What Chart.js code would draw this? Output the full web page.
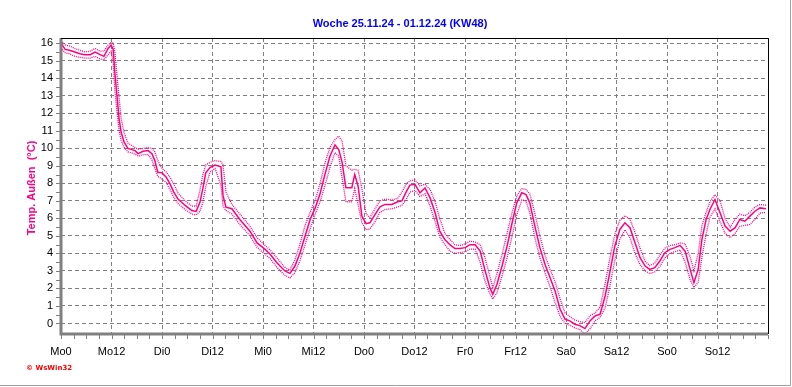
<!DOCTYPE html>
<html>
<head>
<meta charset="utf-8">
<script src="https://cdn.jsdelivr.net/npm/chart.js@4/dist/chart.umd.min.js"></script>
<style>
    body { margin: 0; background: #fff; }
</style>
</head>
<body>
<canvas id="tempChart" width="792" height="387"></canvas>
<script>
const chartTitle = 'Woche 25.11.24 - 01.12.24 (KW48)';
const yTitle = 'Temp. Außen  (°C)';
const dayLabels = ['Mo0','Mo12','Di0','Di12','Mi0','Mi12','Do0','Do12','Fr0','Fr12','Sa0','Sa12','So0','So12'];

// Stunden seit Mo 0 Uhr
const hours = [0,1,2,3.3,4.5,5.7,6.9,8.1,9.3,10.2,11.2,11.9,12.4,12.8,13.3,13.8,14.3,15,15.9,17.6,
    18.3,19.5,20.7,21.6,22.3,23,24,25,25.9,26.8,27.8,29.5,31.1,32.1,33,33.7,34.4,35.4,36.6,38,
    38.5,39.2,40.6,42.5,44.9,46.6,48.5,49.7,51.3,53.2,54.4,55.6,56.8,58,59.2,60.4,61.5,62.7,63.9,65.1,
    66,66.8,67.7,69.1,69.8,70.6,71.5,72.5,73.4,74.6,75.8,77,78.6,80,81,82,82.9,84.1,85.3,86.5,
    87.7,88.9,90,91.2,92.4,93.6,94.8,96,97.2,98.4,99.6,100.7,101.9,102.6,103.6,104.8,106,107.2,108.3,109.5,
    110.5,111.4,112.6,113.8,115,116.2,117.4,118.6,119.8,120.9,122.1,123.3,124.5,125.7,126.9,128.1,129.3,130.4,131.6,132.8,
    134,135.2,136.4,137.6,138.8,139.9,141.1,142.3,143.5,144.7,145.9,147.1,148.3,149.5,150.4,151.4,152.3,153.3,154.2,155.4,
    156.6,157.8,159,160.2,161.3,162.5,163.7,164.9,166.1,167.5];

const temp = [16.0,15.65,15.6,15.5,15.4,15.35,15.35,15.5,15.35,15.25,15.7,15.9,15.65,14.3,13.0,11.7,10.9,10.35,10.0,9.87,
    9.7,9.83,9.87,9.7,9.3,8.63,8.6,8.35,7.97,7.5,7.1,6.74,6.45,6.4,6.9,7.7,8.6,8.9,9.05,8.95,
    7.3,6.64,6.55,5.94,5.27,4.6,4.23,3.95,3.47,3.0,2.86,3.28,4.04,5.0,5.94,6.6,7.36,8.5,9.55,10.2,
    9.93,9.2,7.75,7.75,8.5,7.84,6.13,5.7,5.75,6.22,6.66,6.8,6.8,6.95,7.0,7.5,7.9,7.95,7.46,7.74,
    7.17,6.32,5.27,4.8,4.5,4.28,4.28,4.33,4.5,4.5,4.13,3.09,2.05,1.67,2.24,3.28,4.42,5.75,6.89,7.46,
    7.36,6.89,5.56,4.33,3.38,2.62,1.86,0.81,0.24,0.15,-0.04,-0.12,-0.29,0.15,0.43,0.53,1.57,2.9,4.42,5.37,
    5.75,5.47,4.61,3.76,3.28,3.09,3.19,3.57,4.04,4.23,4.33,4.46,4.13,3.09,2.33,3.09,4.8,5.94,6.51,7.08,
    6.32,5.56,5.27,5.47,5.94,5.84,6.13,6.41,6.6,6.55];

const tempMax = [16.15,15.9,15.85,15.7,15.6,15.5,15.55,15.7,15.55,15.55,15.9,16.05,16.0,15.5,14.2,12.9,11.7,10.9,10.3,10.05,
    9.95,10.0,10.05,10.0,9.8,9.3,8.85,8.65,8.35,7.95,7.45,7.0,6.7,6.7,7.6,8.5,9.05,9.2,9.3,9.25,
    9.05,7.5,6.8,6.25,5.55,4.9,4.45,4.2,3.75,3.2,3.05,3.65,4.55,5.6,6.35,7.05,7.95,9.15,10.05,10.5,
    10.7,10.4,9.0,8.75,8.8,8.75,7.7,6.25,6.05,6.55,7.0,7.1,7.05,7.15,7.5,7.95,8.15,8.2,7.85,7.95,
    7.65,6.95,6.0,5.15,4.8,4.5,4.45,4.55,4.7,4.65,4.5,3.8,2.7,2.05,2.85,3.95,5.15,6.35,7.3,7.7,
    7.65,7.4,6.3,5.0,3.9,3.1,2.4,1.4,0.6,0.4,0.2,0.1,0.05,0.45,0.6,0.95,2.3,3.7,5.1,5.9,
    6.15,5.95,5.2,4.3,3.55,3.3,3.45,3.9,4.3,4.45,4.5,4.6,4.55,3.8,3.0,4.0,5.6,6.35,6.95,7.35,
    7.0,6.0,5.5,5.95,6.25,6.15,6.35,6.65,6.8,6.75];

const tempMin = [15.75,15.45,15.4,15.25,15.2,15.15,15.15,15.25,15.1,15.05,15.35,15.55,14.9,13.3,12.1,11.0,10.45,10.05,9.8,9.68,
    9.55,9.63,9.65,9.35,8.85,8.4,8.25,8.05,7.65,7.2,6.85,6.5,6.25,6.2,6.4,6.9,7.8,8.65,8.85,7.9,
    6.7,6.45,6.25,5.65,5.0,4.35,3.95,3.7,3.2,2.75,2.6,2.9,3.6,4.5,5.4,6.25,6.9,7.85,8.9,9.75,
    9.55,8.3,6.95,6.95,7.7,6.8,5.75,5.35,5.4,5.8,6.35,6.5,6.55,6.65,6.75,7.05,7.5,7.6,7.25,7.4,
    6.7,5.8,4.95,4.5,4.15,4.0,4.05,4.1,4.25,4.25,3.5,2.45,1.7,1.4,1.75,2.7,3.75,5.0,6.2,7.05,
    7.0,6.3,4.9,3.75,2.9,2.1,1.2,0.4,0.0,-0.1,-0.25,-0.35,-0.6,-0.3,0.15,0.35,0.9,2.1,3.6,4.8,
    5.35,4.9,4.0,3.35,3.0,2.85,2.95,3.25,3.75,4.0,4.1,4.2,3.5,2.5,2.05,2.35,3.8,5.1,6.05,6.55,
    5.8,5.15,4.9,5.15,5.55,5.6,5.65,5.95,6.3,6.35];

const lineColor = '#ff0080';

function toPoints(values) {
    return hours.map((h, i) => ({ x: h, y: values[i] }));
}

const framePlugin = {
    id: 'frame',
    afterDraw(chart) {
        const ctx = chart.ctx;
        const a = chart.chartArea;
        const xs = chart.scales.x;
        const ys = chart.scales.y;
        ctx.save();
        // kleine Striche an der x-Achse (alle 3 h)
        ctx.strokeStyle = '#808080';
        ctx.lineWidth = 1;
        ctx.beginPath();
        for (let h = 0; h <= 168; h += 3) {
            const px = Math.round(xs.getPixelForValue(h)) + 0.5;
            ctx.moveTo(px, a.bottom + 1);
            ctx.lineTo(px, a.bottom + 5);
        }
        for (let t = 0; t <= 16; t += 0.5) {
            const py = Math.round(ys.getPixelForValue(t)) + 0.5;
            ctx.moveTo(a.left - 5, py);
            ctx.lineTo(a.left - 1, py);
        }
        ctx.stroke();
        // Achsen links/unten grau, oben/rechts schwarz
        ctx.strokeStyle = '#808080';
        ctx.lineWidth = 3;
        ctx.beginPath();
        ctx.moveTo(a.left, a.top);
        ctx.lineTo(a.left, a.bottom);
        ctx.lineTo(a.right, a.bottom);
        ctx.stroke();
        ctx.strokeStyle = '#000';
        ctx.lineWidth = 1;
        ctx.beginPath();
        ctx.moveTo(a.left, a.top + 0.5);
        ctx.lineTo(a.right + 0.5, a.top + 0.5);
        ctx.lineTo(a.right + 0.5, a.bottom);
        ctx.stroke();
        // Rahmen
        ctx.strokeStyle = '#a0a0a0';
        ctx.beginPath();
        ctx.moveTo(0, 385.5);
        ctx.lineTo(790.5, 385.5);
        ctx.lineTo(790.5, 0);
        ctx.stroke();
        // Texte
        ctx.fillStyle = '#0000ff';
        ctx.font = 'bold 11px "Liberation Sans", Arial, sans-serif';
        ctx.textAlign = 'center';
        ctx.textBaseline = 'middle';
        ctx.fillText(chartTitle, 400, 24);
        ctx.save();
        ctx.translate(32, 188);
        ctx.rotate(-Math.PI / 2);
        ctx.fillStyle = lineColor;
        ctx.fillText(yTitle, 0, 0);
        ctx.restore();
        ctx.fillStyle = '#ff0000';
        ctx.font = 'bold 7px "DejaVu Sans", sans-serif';
        ctx.textAlign = 'left';
        ctx.fillText('© WsWin32', 26, 368);
        ctx.restore();
    }
};

const ctx = document.getElementById('tempChart').getContext('2d');
const tempChart = new Chart(ctx, {
    type: 'line',
    data: {
        datasets: [
            {
                label: 'Max',
                data: toPoints(tempMax),
                borderColor: lineColor,
                borderWidth: 1.3,
                borderDash: [1, 1],
                pointRadius: 0,
                tension: 0
            },
            {
                label: 'Min',
                data: toPoints(tempMin),
                borderColor: lineColor,
                borderWidth: 1.3,
                borderDash: [1, 1],
                pointRadius: 0,
                tension: 0
            },
            {
                label: 'Temp. Außen',
                data: toPoints(temp),
                borderColor: lineColor,
                borderWidth: 1.5,
                pointRadius: 0,
                tension: 0
            }
        ]
    },
    options: {
        responsive: false,
        animation: false,
        layout: { padding: { left: 0, right: 24, top: 38, bottom: 0 } },
        plugins: {
            legend: { display: false },
            title: { display: false },
            tooltip: { enabled: false }
        },
        scales: {
            x: {
                type: 'linear',
                min: 0,
                max: 168,
                afterFit(scale) { scale.height = 53; },
                grid: { color: '#808080', drawTicks: false, lineWidth: 1 },
                border: { display: false, dash: [4, 3] },
                ticks: {
                    stepSize: 12,
                    autoSkip: false,
                    maxRotation: 0,
                    includeBounds: false,
                    padding: 11,
                    color: '#000',
                    font: { family: '"Liberation Sans", Arial, sans-serif', size: 11 },
                    callback: (v) => dayLabels[v / 12] || ''
                }
            },
            y: {
                min: -0.6,
                max: 16.3,
                afterFit(scale) { scale.width = 61; },
                grid: { color: '#808080', drawTicks: false, lineWidth: 1 },
                border: { display: false, dash: [4, 3] },
                ticks: {
                    stepSize: 1,
                    includeBounds: false,
                    padding: 8,
                    color: '#000',
                    font: { family: '"Liberation Sans", Arial, sans-serif', size: 11 }
                }
            }
        }
    },
    plugins: [framePlugin]
});
</script>
</body>
</html>
